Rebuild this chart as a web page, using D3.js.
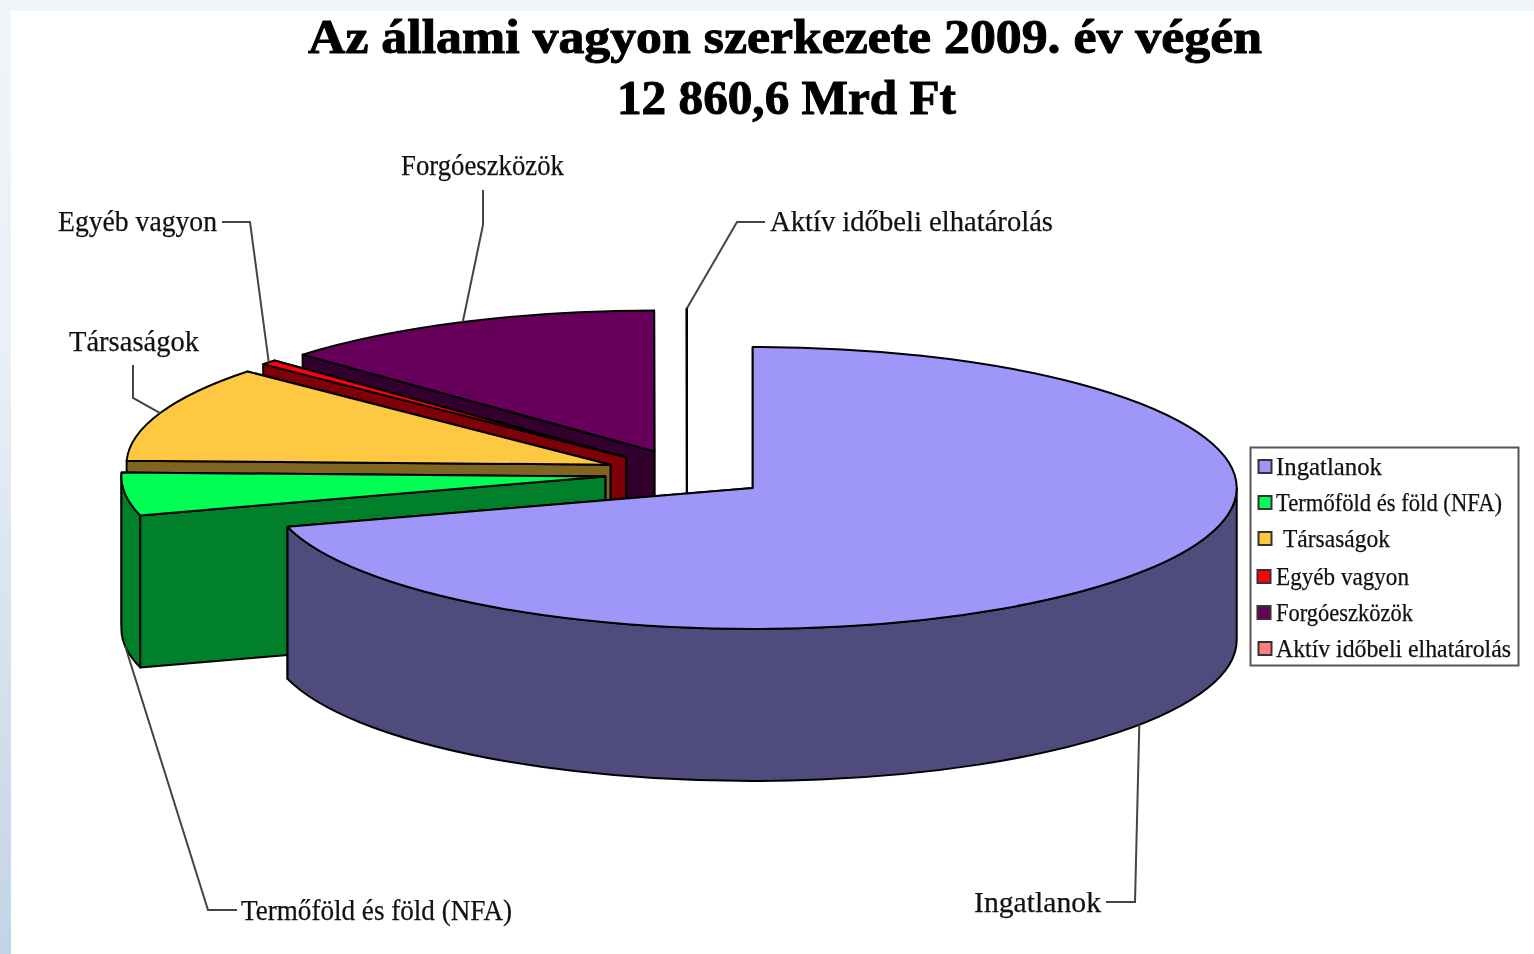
<!DOCTYPE html>
<html>
<head>
<meta charset="utf-8">
<script src="https://d3js.org/d3.v7.min.js"></script>
<style>
  html, body { margin: 0; padding: 0; background: #fff; overflow: hidden; }
  svg { display: block; filter: blur(0.6px); }
  text { font-family: "Liberation Serif", serif; fill: #111; stroke: #111; stroke-width: 0.25; }
</style>
</head>
<body>
<svg width="1534" height="954"></svg>
<script>
//data (share of the total, %)
const categories = ["Ingatlanok", "Termőföld és föld (NFA)", "Társaságok", "Egyéb vagyon", "Forgóeszközök", "Aktív időbeli elhatárolás"];
const shares = [70.55, 4.9, 11.05, 0.55, 12.94, 0.01];
const colors = ["#9e96f9", "#00ff55", "#ffc842", "#ff0010", "#66005a", "#ff8080"];
const titleLines = ["Az állami vagyon szerkezete 2009. év végén", "12 860,6 Mrd Ft"];

//3d pie geometry
const cx = 687, cy = 473.5;
const rx = 484, ry = 141;
const depth = 152;
const explode = 0.17;

const svg = d3.select("svg");

//page background: pale strips on the top and left, white sheet on top
var defs = svg.append("defs");
var grad = defs.append("linearGradient")
  .attr("id", "pageBg")
  .attr("x1", 0).attr("y1", 0)
  .attr("x2", 0).attr("y2", 1);
grad.append("stop").attr("offset", "0%").attr("stop-color", "#f1f5f9");
grad.append("stop").attr("offset", "35%").attr("stop-color", "#eaf0f6");
grad.append("stop").attr("offset", "100%").attr("stop-color", "#c2d4e6");

svg.append("rect").attr("width", 1534).attr("height", 954).attr("fill", "url(#pageBg)");
svg.append("rect").attr("x", 11).attr("y", 11).attr("width", 1523).attr("height", 943).attr("fill", "#fff");

//title
svg.selectAll(".title")
  .data(titleLines)
  .enter()
  .append("text")
    .attr("class", "title")
    .attr("x", (d, i) => i == 0 ? 308 : 617)
    .attr("y", (d, i) => i == 0 ? 53 : 114)
    .attr("textLength", (d, i) => i == 0 ? 954 : 339)
    .attr("lengthAdjust", "spacingAndGlyphs")
    .attr("font-size", 48)
    .attr("font-weight", "bold")
    .style("fill", "#000")
    .style("stroke", "#000")
    .style("stroke-width", 1)
    .text(d => d);

//slices
var pie = d3.pie().sort(null).value(d => d.share);
var slices = pie(categories.map((c, i) => ({name: c, share: shares[i], color: colors[i]})));

slices.forEach(s => {
  var mid = (s.startAngle + s.endAngle) / 2;
  s.ox = cx + explode * rx * Math.sin(mid);
  s.oy = cy - explode * ry * Math.cos(mid);
  s.mid = mid;
});

function pt(s, a) {
  return [s.ox + rx * Math.sin(a), s.oy - ry * Math.cos(a)];
}

function topPath(s) {
  var p0 = pt(s, s.startAngle), p1 = pt(s, s.endAngle);
  var large = s.endAngle - s.startAngle > Math.PI ? 1 : 0;
  return `M${s.ox},${s.oy}L${p0}A${rx},${ry} 0 ${large} 1 ${p1}Z`;
}

function radialWall(s, a) {
  var p = pt(s, a);
  return `M${s.ox},${s.oy}L${p}L${p[0]},${p[1] + depth}L${s.ox},${s.oy + depth}Z`;
}

function outerWall(s) {
  var a0 = Math.max(s.startAngle, Math.PI / 2), a1 = Math.min(s.endAngle, 3 * Math.PI / 2);
  if (a0 >= a1) return null;
  var p0 = pt(s, a0), p1 = pt(s, a1);
  var large = a1 - a0 > Math.PI ? 1 : 0;
  return `M${p0}A${rx},${ry} 0 ${large} 1 ${p1}L${p1[0]},${p1[1] + depth}A${rx},${ry} 0 ${large} 0 ${p0[0]},${p0[1] + depth}Z`;
}

function dark(c) {
  var r = d3.rgb(c);
  return d3.rgb(r.r * 0.5, r.g * 0.5, r.b * 0.5).formatHex();
}

//back slices first, each one: hidden wall, front wall, outer wall, top
var sliceG = svg.selectAll(".slice")
  .data(slices.slice().reverse())
  .enter()
  .append("g")
    .attr("class", "slice")
    .attr("stroke", "#000")
    .attr("stroke-width", 2)
    .attr("stroke-linejoin", "round");

sliceG.each(function(s) {
  var g = d3.select(this);
  var angles = [s.startAngle, s.endAngle].sort((a, b) => Math.cos(b) - Math.cos(a));
  angles.forEach(a => {
    g.append("path").attr("d", radialWall(s, a)).attr("fill", dark(s.data.color));
  });
  var w = outerWall(s);
  if (w) g.append("path").attr("d", w).attr("fill", dark(s.data.color));
  g.append("path").attr("d", topPath(s)).attr("fill", s.data.color);
});

//callouts, the label sits at the end of a two piece leader
const labelPos = [
  {x: 974, y: 912, w: 127, elbow: [[1135, 902], [1106, 902]], low: true},
  {x: 241, y: 920, w: 271, elbow: [[208, 910], [237, 910]], low: true},
  {x: 69, y: 351, w: 130, elbow: [[133, 398], [133, 365]]},
  {x: 58, y: 231, w: 159, elbow: [[250, 222], [222, 222]]},
  {x: 401, y: 175, w: 163, elbow: [[483, 225], [483, 190]]},
  {x: 770, y: 231, w: 283, elbow: [[737, 222], [765, 222]]}
];

var leader = d3.line();

svg.selectAll(".leader")
  .data(slices)
  .enter()
  .append("path")
    .attr("class", "leader")
    .attr("fill", "none")
    .attr("stroke", "#444")
    .attr("stroke-width", 2)
    .attr("d", (s, i) => {
      var a = pt(s, s.mid);
      if (labelPos[i].low) a = [a[0], a[1] + depth];
      return leader([a].concat(labelPos[i].elbow));
    });

svg.selectAll(".callout")
  .data(slices)
  .enter()
  .append("text")
    .attr("class", "callout")
    .attr("x", (s, i) => labelPos[i].x)
    .attr("y", (s, i) => labelPos[i].y)
    .attr("textLength", (s, i) => labelPos[i].w)
    .attr("lengthAdjust", "spacingAndGlyphs")
    .attr("font-size", 30)
    .text(s => s.data.name);

//legend
const legendTextX = [1276, 1276, 1283, 1276, 1276, 1276];
const legendTextW = [106, 226, 107, 133, 137, 235];
const legendBase = [475, 511, 547, 585, 621, 657];

svg.append("rect")
  .attr("x", 1250.5).attr("y", 447.5)
  .attr("width", 268).attr("height", 218)
  .attr("fill", "#fff")
  .attr("stroke", "#555")
  .attr("stroke-width", 2);

var legend = svg.selectAll(".legendItem")
  .data(slices)
  .enter()
  .append("g")
    .attr("class", "legendItem");

legend.append("rect")
  .attr("x", (s, i) => i == 3 || i == 4 ? 1257.5 : 1258.5)
  .attr("y", (s, i) => legendBase[i] - 15)
  .attr("width", 13)
  .attr("height", 13)
  .attr("fill", s => s.data.color)
  .attr("stroke", "#333")
  .attr("stroke-width", 2);

legend.append("text")
  .attr("x", (s, i) => legendTextX[i])
  .attr("y", (s, i) => legendBase[i])
  .attr("textLength", (s, i) => legendTextW[i])
  .attr("lengthAdjust", "spacingAndGlyphs")
  .attr("font-size", 25)
  .text(s => s.data.name);
</script>
</body>
</html>
